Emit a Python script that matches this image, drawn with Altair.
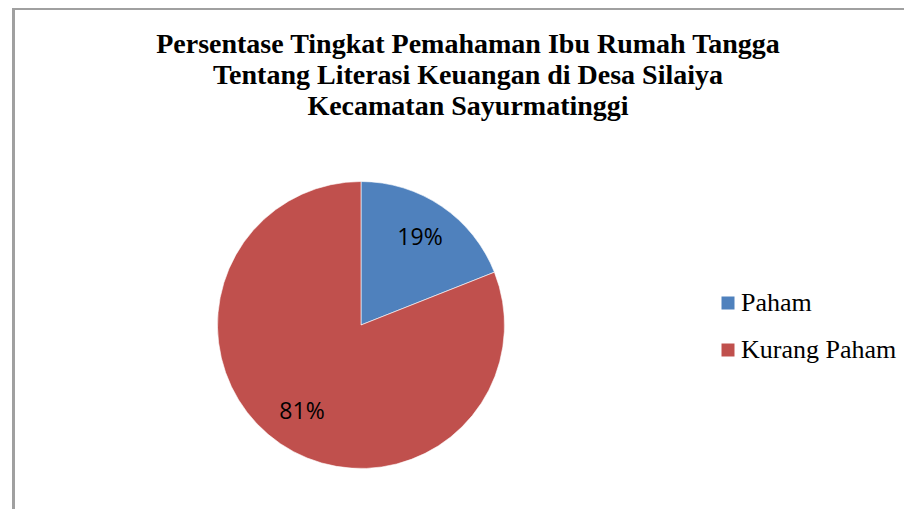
import altair as alt
import pandas as pd

categories = ["Paham", "Kurang Paham"]
values = [19, 81]
labels = ["19%", "81%"]
colors = ["#4F81BD", "#C0504D"]
title_lines = [
    "Persentase Tingkat Pemahaman Ibu Rumah  Tangga",
    "Tentang Literasi Keuangan di Desa Silaiya",
    "Kecamatan Sayurmatinggi",
]

df = pd.DataFrame({"kategori": categories, "nilai": values, "label": labels,
                   "urut": list(range(len(categories)))})
title_df = pd.DataFrame({"judul": [0]})

CX, CY = 353, 187

base = alt.Chart(df).encode(
    theta=alt.Theta("nilai:Q", stack=True),
    order=alt.Order("urut:Q"),
)

pie = base.mark_arc(outerRadius=143.5, stroke="white", strokeWidth=0.6).encode(
    x=alt.value(CX), y=alt.value(CY),
    color=alt.Color(
        "kategori:N",
        scale=alt.Scale(domain=categories, range=colors),
        sort=categories,
        legend=alt.Legend(
            title=None, orient="none", legendX=707, legendY=152,
            symbolType="square", symbolSize=169, symbolStrokeWidth=0,
            labelFont="Liberation Serif", labelFontSize=26, labelColor="black",
            labelOffset=0, rowPadding=21, padding=0, labelLimit=300,
        ),
    ),
)

text = base.mark_text(radius=105, font="Open Sans", fontSize=23, color="black").encode(
    x=alt.value(CX), y=alt.value(CY), text="label:N",
)

title = alt.Chart(title_df).mark_text(
    font="Liberation Serif", fontSize=28, fontWeight="bold", color="black",
    align="center", baseline="alphabetic", lineHeight=31,
).encode(x=alt.value(460), y=alt.value(-85), text=alt.value(title_lines))

border_left = alt.Chart(df).mark_rule(color="#a0a0a0", strokeWidth=3).encode(
    x=alt.value(5.5), y=alt.value(-130), y2=alt.value(371)
)
border_top = alt.Chart(df).mark_rule(color="#a0a0a0", strokeWidth=2).encode(
    x=alt.value(4), x2=alt.value(896), y=alt.value(-129)
)

chart = alt.layer(border_left, border_top, title, pie, text).properties(
    width=896, height=371,
    padding={"top": 130, "left": 0, "right": 0, "bottom": 0},
    autosize=alt.AutoSizeParams(type="none"),
).configure_view(stroke=None)

chart.save("out.html", embed_options={"renderer": "svg", "actions": False})
